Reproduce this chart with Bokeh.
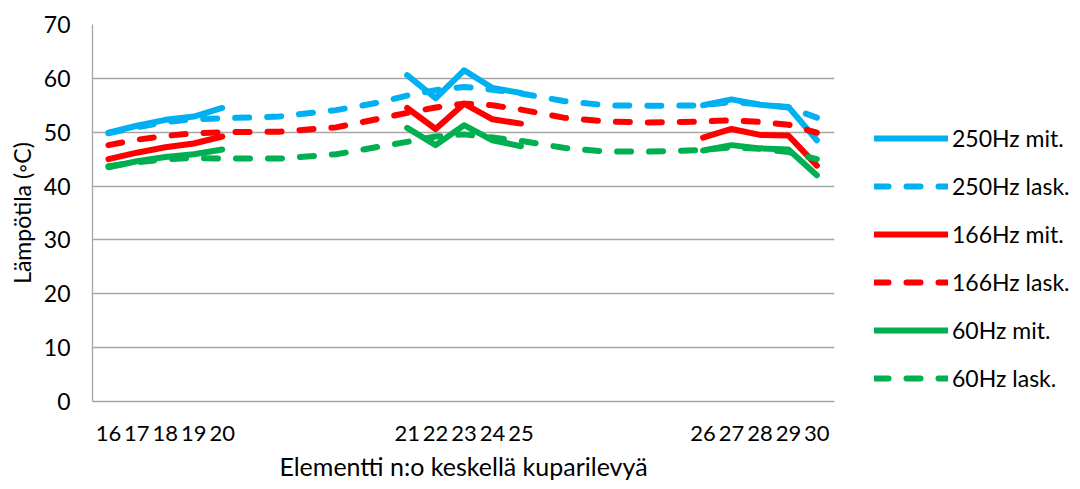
import math
from bokeh.plotting import figure
from bokeh.models import Range1d, FixedTicker, Legend, LegendItem, Title
from bokeh.embed import file_html
from bokeh.resources import INLINE

# ---- data ----
elements = ["16", "17", "18", "19", "20",
            "21", "22", "23", "24", "25",
            "26", "27", "28", "29", "30"]
# position of each element along the plate (element spacing = 1)
element_pos = [0, 1, 2, 3, 4,
               10.5, 11.5, 12.5, 13.5, 14.5,
               20.9, 21.9, 22.9, 23.9, 24.9]
# extra calculated points between the measured groups
gap_pos = [6.0, 8.0, 9.5, 16.0, 17.5, 19.0]

mit_250 = [49.9, 51.2, 52.3, 52.9, 54.5,
           60.6, 56.3, 61.5, 58.2, 57.3,
           55.0, 56.1, 55.1, 54.7, 48.5]
lask_250 = [49.8, 50.9, 51.9, 52.4, 52.6,
            56.8, 57.8, 58.4, 57.9, 57.2,
            55.0, 55.6, 55.2, 54.6, 52.7]
lask_250_gap = [52.9, 54.1, 55.5, 55.8, 55.0, 54.9]

mit_166 = [45.0, 46.2, 47.2, 47.9, 49.2,
           54.5, 50.6, 55.3, 52.4, 51.6,
           49.0, 50.6, 49.5, 49.4, 43.8]
lask_166 = [47.6, 48.6, 49.3, 49.8, 50.0,
            53.6, 54.6, 55.3, 55.0, 54.2,
            52.0, 52.2, 51.9, 51.4, 49.9]
lask_166_gap = [50.1, 50.9, 52.5, 52.7, 52.0, 51.8]

mit_60 = [43.5, 44.6, 45.4, 45.9, 46.8,
          50.8, 47.6, 51.3, 48.5, 47.4,
          46.6, 47.6, 47.0, 46.8, 42.0]
lask_60 = [43.7, 44.4, 45.0, 45.2, 45.1,
           48.2, 49.2, 49.6, 49.0, 48.4,
           46.7, 47.2, 46.9, 46.3, 45.0]
lask_60_gap = [45.1, 45.9, 47.3, 47.1, 46.4, 46.4]

y_ticks = [0, 10, 20, 30, 40, 50, 60, 70]

BLUE = "#00B0F0"
RED = "#FF0000"
GREEN = "#00B050"
FONT = "Lato"


def measured_xy(vals):
    xs, ys = [], []
    for i, (x, v) in enumerate(zip(element_pos, vals)):
        if i > 0 and x - element_pos[i - 1] > 2:
            xs.append(float("nan"))
            ys.append(float("nan"))
        xs.append(x)
        ys.append(v)
    return xs, ys


def calc_xy(vals, gap_vals):
    pts = sorted(zip(element_pos + gap_pos, vals + gap_vals))
    return [p[0] for p in pts], [p[1] for p in pts]


p = figure(frame_width=742, frame_height=377,
           output_backend="svg", toolbar_location=None,
           x_range=Range1d(-0.56, 25.52), y_range=Range1d(0, 70),
           min_border_left=88, min_border_right=234,
           min_border_top=24, min_border_bottom=80)
p.outline_line_color = None
p.background_fill_color = "white"
p.border_fill_color = "white"

series = [
    ("250Hz mit.", measured_xy(mit_250), BLUE, "solid"),
    ("250Hz lask.", calc_xy(lask_250, lask_250_gap), BLUE, "14 18"),
    ("166Hz mit.", measured_xy(mit_166), RED, "solid"),
    ("166Hz lask.", calc_xy(lask_166, lask_166_gap), RED, "14 18"),
    ("60Hz mit.", measured_xy(mit_60), GREEN, "solid"),
    ("60Hz lask.", calc_xy(lask_60, lask_60_gap), GREEN, "14 18"),
]

items = []
for label, (xs, ys), color, dash in series:
    r = p.line(xs, ys, line_color=color, line_width=6, line_dash=dash,
               line_cap="round", line_join="round")
    items.append(LegendItem(label=label, renderers=[r]))

legend = Legend(items=items, location=(40, 8), orientation="vertical",
                glyph_width=74, glyph_height=30, label_height=30,
                spacing=18, padding=10, margin=0, label_standoff=4,
                border_line_color=None, background_fill_alpha=0,
                label_text_font=FONT, label_text_font_size="23px",
                label_text_color="#000000")
p.add_layout(legend, "right")

# axes
p.xaxis.ticker = FixedTicker(ticks=element_pos)
p.xaxis.major_label_overrides = {x: t for x, t in zip(element_pos, elements)}
p.xaxis.axis_label = "Elementti n:o keskellä kuparilevyä"
p.yaxis.ticker = FixedTicker(ticks=y_ticks)

for ax in (p.xaxis, p.yaxis):
    ax.axis_line_color = "#a6a6a6"
    ax.axis_line_width = 1.3
    ax.major_tick_line_color = None
    ax.minor_tick_line_color = None
    ax.major_label_text_font = FONT
    ax.major_label_text_font_size = "23px"
    ax.major_label_text_color = "#000000"
    ax.axis_label_text_font = FONT
    ax.axis_label_text_font_size = "25px"
    ax.axis_label_text_font_style = "normal"
    ax.axis_label_text_color = "#000000"

p.xaxis.major_label_text_font_size = "22px"
p.xaxis.major_label_standoff = 18
p.xaxis.axis_label_standoff = 7
p.yaxis.major_label_standoff = 16

p.xgrid.grid_line_color = None
p.ygrid.grid_line_color = "#a6a6a6"
p.ygrid.grid_line_width = 1.3

ytitle = Title(text="Lämpötila (◦C)", align="center", offset=47,
               text_font=FONT, text_font_size="23px", text_font_style="normal",
               text_color="#000000")
p.add_layout(ytitle, "left")

open("out.html", "w").write(file_html(p, INLINE))
